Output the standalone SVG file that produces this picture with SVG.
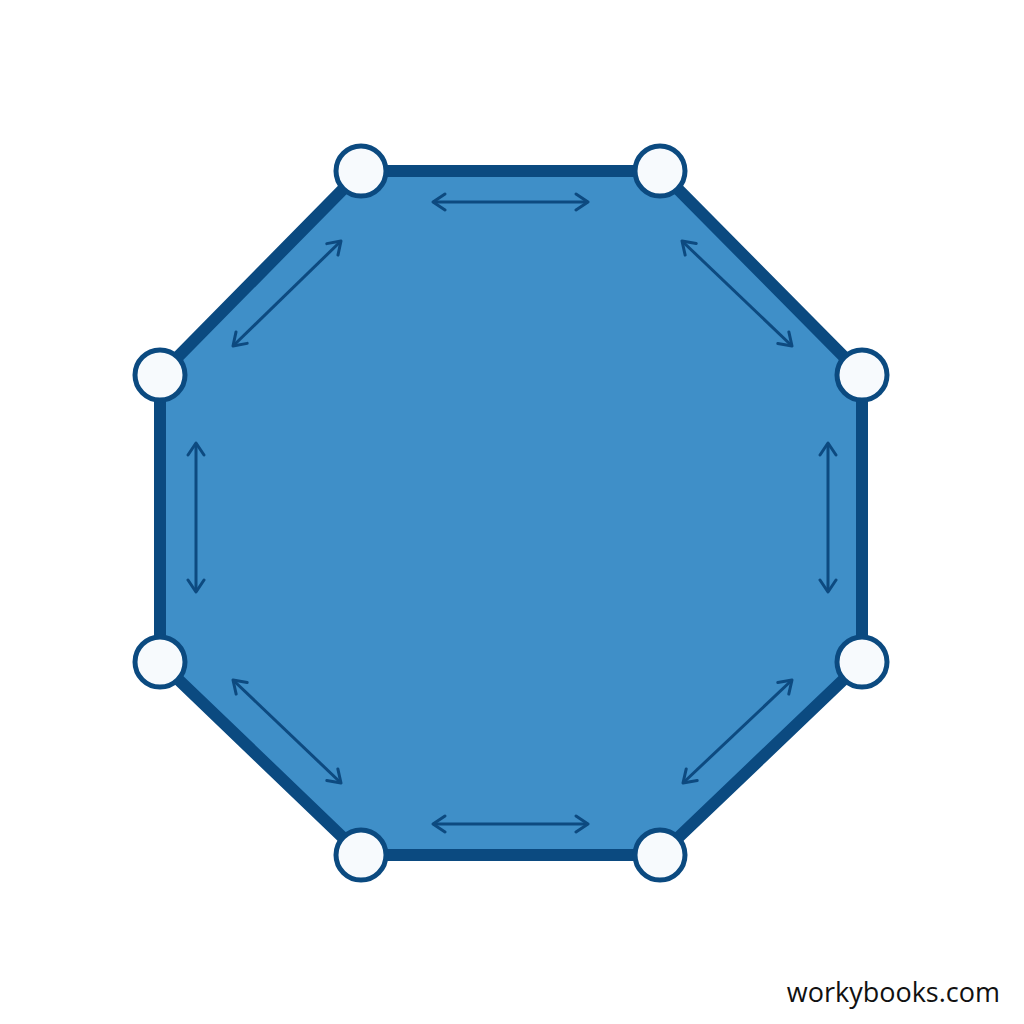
<svg xmlns="http://www.w3.org/2000/svg" width="1024" height="1024" viewBox="0 0 1024 1024">
<style>
.oct{fill:#3f8fc8;stroke:#0b4a80;stroke-width:12;stroke-linejoin:round}
.v{fill:#f7fafd;stroke:#0b4a80;stroke-width:5}
.a{stroke:#0d4a80;stroke-width:3;fill:none;marker-start:url(#ah);marker-end:url(#ah)}
.lbl{font-family:"Open Sans","DejaVu Sans",sans-serif;font-size:27px;fill:#111}
</style>
<defs>
<marker id="ah" viewBox="0 0 20 20" refX="18" refY="10" markerWidth="20" markerHeight="20" markerUnits="userSpaceOnUse" orient="auto-start-reverse">
<path d="M6,2 L18,10 L6,18" fill="none" stroke="#0d4a80" stroke-width="3" stroke-linecap="round" stroke-linejoin="round"/>
</marker>
</defs>
<rect width="1024" height="1024" fill="#ffffff"/>
<g id="octagon">
<polygon class="oct" points="361,171 660,171 862,375 862,662 660,855 361,855 160,662 160,375"/>
</g>
<g id="connectors">
<line class="a" x1="433" y1="202" x2="588" y2="202"/>
<line class="a" x1="682" y1="241" x2="792" y2="346"/>
<line class="a" x1="828" y1="443" x2="828" y2="592"/>
<line class="a" x1="683" y1="783" x2="792" y2="680"/>
<line class="a" x1="433" y1="824" x2="588" y2="824"/>
<line class="a" x1="233" y1="680" x2="341" y2="783"/>
<line class="a" x1="196" y1="443" x2="196" y2="592"/>
<line class="a" x1="233" y1="346" x2="341" y2="241"/>
</g>
<g id="vertices">
<circle id="v1" class="v" cx="361" cy="171" r="25"/>
<circle id="v2" class="v" cx="660" cy="171" r="25"/>
<circle id="v3" class="v" cx="862" cy="375" r="25"/>
<circle id="v4" class="v" cx="862" cy="662" r="25"/>
<circle id="v5" class="v" cx="660" cy="855" r="25"/>
<circle id="v6" class="v" cx="361" cy="855" r="25"/>
<circle id="v7" class="v" cx="160" cy="662" r="25"/>
<circle id="v8" class="v" cx="160" cy="375" r="25"/>
</g>
<text class="lbl" x="1000" y="1002" text-anchor="end">workybooks.com</text>
</svg>
